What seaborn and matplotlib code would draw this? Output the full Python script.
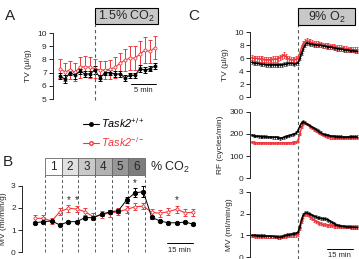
import matplotlib
matplotlib.use("Agg")
import matplotlib.pyplot as plt
from matplotlib.lines import Line2D
from matplotlib.patches import Rectangle
import seaborn as sns

sns.set_style("ticks")
plt.rcParams["font.family"] = ["Liberation Sans", "DejaVu Sans"]
plt.rcParams["mathtext.fontset"] = "custom"
plt.rcParams["mathtext.rm"] = "Liberation Sans"
plt.rcParams["mathtext.it"] = "Liberation Sans:italic"

BLACK = "black"
RED = "#f0383c"

# ---- panel A: TV during 1.5% CO2 (1 point per minute)
a_minutes = [-7, -6, -5, -4, -3, -2, -1, 0, 1, 2, 3, 4, 5, 6, 7, 8, 9, 10, 11, 12]
a_wt = [6.75, 6.5, 7.0, 6.8, 7.1, 6.9, 6.9, 7.2, 6.6, 7.0, 7.0, 6.9, 6.9, 6.6, 6.8, 6.8, 7.3, 7.2, 7.3, 7.5]
a_wt_err = [0.25, 0.3, 0.2, 0.25, 0.2, 0.2, 0.2, 0.3, 0.25, 0.2, 0.2, 0.2, 0.2, 0.2, 0.2, 0.2, 0.25, 0.2, 0.2, 0.2]
a_ko = [7.3, 7.05, 7.2, 7.05, 7.4, 7.45, 7.4, 7.3, 7.2, 7.2, 7.25, 7.4, 7.7, 7.95, 8.1, 8.1, 8.4, 8.7, 8.6, 8.9]
a_ko_err = [0.7, 0.7, 0.7, 0.7, 0.8, 0.8, 0.8, 0.7, 0.7, 0.7, 0.7, 0.8, 0.8, 0.8, 0.9, 0.9, 1.0, 1.0, 0.9, 0.9]

# ---- panel B: MV with stepwise CO2 (5 min bins)
b_minutes = [0, 5, 10, 15, 20, 25, 30, 35, 40, 45, 50, 55, 60, 65, 70, 75, 80, 85, 90, 95]
b_wt = [1.33, 1.38, 1.41, 1.23, 1.38, 1.38, 1.56, 1.56, 1.71, 1.83, 1.87, 2.36, 2.68, 2.73, 1.58, 1.41, 1.33, 1.33, 1.36, 1.27]
b_wt_err = [0.05, 0.05, 0.05, 0.05, 0.05, 0.05, 0.06, 0.06, 0.06, 0.07, 0.08, 0.12, 0.2, 0.25, 0.06, 0.05, 0.05, 0.05, 0.05, 0.05]
b_ko = [1.53, 1.53, 1.41, 1.83, 1.98, 1.95, 1.83, 1.6, 1.71, 1.76, 1.83, 1.93, 2.05, 2.08, 1.8, 1.76, 1.83, 1.94, 1.78, 1.8]
b_ko_err = [0.15, 0.15, 0.12, 0.15, 0.15, 0.15, 0.15, 0.15, 0.15, 0.15, 0.15, 0.15, 0.15, 0.15, 0.15, 0.15, 0.15, 0.15, 0.15, 0.15]
co2_levels = ["1", "2", "3", "4", "5", "6"]
co2_edges = [6, 16, 26, 36, 46, 56, 66]
co2_fills = ["#ffffff", "#e2e2e2", "#c9c9c9", "#b2b2b2", "#979797", "#7d7d7d"]
b_star_minutes = [20, 25, 60, 85]
b_star_y = [2.35, 2.35, 3.12, 2.35]

# ---- panel C: hypoxia 9% O2 (1 point per minute)
c_minutes = list(range(-26, 34))
c_tv_wt = [5.4, 5.3, 5.3, 5.2, 5.2, 5.1, 5.1, 5.1, 5.0, 5.0, 5.0, 5.0, 5.0, 5.0, 5.0, 5.0, 5.0, 5.0, 5.1, 5.1,
           5.2, 5.2, 5.2, 5.2, 5.1, 5.2,
           5.3, 6.0, 6.8, 7.5, 8.1, 8.4, 8.3, 8.2, 8.2, 8.1, 8.1, 8.0, 8.0, 8.0, 7.9, 7.9,
           7.8, 7.8, 7.7, 7.7, 7.6, 7.6, 7.5, 7.5, 7.4, 7.4, 7.3, 7.3, 7.3, 7.2, 7.2, 7.2, 7.1, 7.1]
c_tv_ko = [6.1, 6.0, 6.0, 6.0, 5.9, 5.9, 5.9, 5.8, 5.8, 5.8, 5.8, 5.8, 5.9, 5.9, 5.9, 6.0, 6.1, 6.3, 6.5, 6.3,
           6.0, 5.9, 5.8, 5.8, 5.8, 5.9,
           6.0, 6.8, 7.7, 8.3, 8.6, 8.7, 8.6, 8.5, 8.4, 8.3, 8.3, 8.2, 8.1, 8.1, 8.0, 8.0,
           7.9, 7.9, 7.8, 7.8, 7.8, 7.7, 7.7, 7.6, 7.6, 7.5, 7.5, 7.5, 7.4, 7.4, 7.4, 7.3, 7.3, 7.3]
c_rf_wt = [195, 192, 190, 190, 189, 188, 188, 188, 187, 186, 186, 186, 185, 185, 185, 183, 180, 182, 185, 188,
           190, 192, 195, 198, 200, 205,
           215, 235, 250, 255, 250, 245, 240, 235, 230, 225, 220, 215, 210, 205, 200, 197,
           195, 193, 191, 190, 189, 188, 188, 187, 187, 186, 186, 186, 186, 187, 187, 187, 187, 187]
c_rf_ko = [162, 161, 160, 160, 160, 159, 159, 159, 159, 159, 159, 159, 159, 159, 159, 159, 159, 160, 160, 160,
           160, 160, 160, 161, 161, 162,
           170, 200, 230, 245, 248, 245, 240, 233, 227, 220, 214, 208, 203, 198, 194, 191,
           188, 186, 184, 183, 182, 181, 181, 180, 180, 180, 180, 180, 180, 181, 181, 181, 181, 181]
c_mv_wt = [1.00, 1.00, 1.00, 0.99, 0.99, 0.98, 0.98, 0.98, 0.97, 0.97, 0.97, 0.96, 0.96, 0.95, 0.94, 0.92, 0.92,
           0.95, 0.98, 1.00, 1.02, 1.04, 1.05, 1.07, 1.08, 1.10,
           1.15, 1.40, 1.75, 1.95, 2.03, 2.03, 2.00, 1.96, 1.92, 1.88, 1.85, 1.82, 1.80, 1.78, 1.77, 1.76,
           1.74, 1.70, 1.65, 1.60, 1.55, 1.50, 1.47, 1.45, 1.43, 1.42, 1.41, 1.40, 1.39, 1.39, 1.38, 1.38, 1.37, 1.37]
c_mv_ko = [0.98, 0.98, 0.97, 0.97, 0.97, 0.97, 0.96, 0.96, 0.96, 0.96, 0.96, 0.96, 0.96, 0.95, 0.95, 0.94, 0.94,
           0.95, 0.96, 0.97, 0.98, 0.99, 1.00, 1.00, 1.00, 1.00,
           1.05, 1.30, 1.65, 1.88, 1.96, 1.95, 1.90, 1.83, 1.76, 1.70, 1.64, 1.60, 1.56, 1.53, 1.50, 1.48,
           1.47, 1.46, 1.45, 1.44, 1.43, 1.42, 1.41, 1.41, 1.40, 1.40, 1.40, 1.39, 1.39, 1.39, 1.39, 1.39, 1.39, 1.39]
c_tv_err = [0.3, 0.4]
c_rf_err = [6, 5]
c_mv_err = [0.07, 0.07]

W, H = 359, 259
fig = plt.figure(figsize=(W / 100, H / 100), dpi=100)


def frame(x0, y0, x1, y1):
    # pixel box -> figure fraction
    return [x0 / W, 1 - y1 / H, (x1 - x0) / W, (y1 - y0) / H]


def style(ax, lim, ticks):
    sns.despine(ax=ax, bottom=True)
    ax.set_ylim(*lim)
    ax.set_yticks(ticks)
    ax.spines["left"].set_bounds(lim[0], lim[1])
    ax.spines["left"].set_linewidth(0.7)
    ax.set_xticks([])
    ax.set_xlabel("")
    ax.tick_params(axis="y", length=3, width=0.7, labelsize=6, pad=1.5)
    ax.patch.set_alpha(0)


def series(ax, x, y, err, color, ms, mfc, ecolor, lw=0.8, elw=0.7, cap=1.2):
    ax.errorbar(x, y, yerr=err, fmt="none", ecolor=ecolor, elinewidth=elw, capsize=cap, capthick=elw, zorder=2)
    sns.lineplot(x=x, y=y, ax=ax, color=color, lw=lw, marker="o", markersize=ms,
                 markerfacecolor=mfc, markeredgecolor=color, markeredgewidth=0.6, zorder=3)


dash = (0, (3, 2.5))

# ---------------- A
axA = fig.add_axes(frame(53, 33, 160, 99))
series(axA, a_minutes, a_ko, a_ko_err, RED, 2.2, "white", RED)
series(axA, a_minutes, a_wt, a_wt_err, BLACK, 2.2, BLACK, BLACK, lw=0.7)
axA.set_xlim(-8.4, 13)
style(axA, (5, 10), [5, 6, 7, 8, 9, 10])
axA.set_ylabel("TV (µl/g)", fontsize=6, labelpad=4)
axA.plot([0, 0], [4.9, 10.7], ls=dash, color="0.35", lw=0.8, clip_on=False)
axA.add_patch(Rectangle((0, 10.7), 12.6, 1.17, facecolor="#c8c8c8", edgecolor="black", lw=0.8, clip_on=False))
axA.text(6.3, 11.28, "1.5% CO$_2$", ha="center", va="center", fontsize=9)
axA.plot([7.2, 12.1], [6.14, 6.14], color="black", lw=0.7)
axA.text(9.65, 5.62, "5 min", ha="center", va="center", fontsize=5.5)

handles = [Line2D([], [], color=BLACK, lw=0.8, marker="o", ms=2.5, mfc=BLACK),
           Line2D([], [], color=RED, lw=0.8, marker="o", ms=2.5, mfc="white", mec=RED)]
fig.legend(handles, ["Task2$^{+/+}$", "Task2$^{-/-}$"], loc="upper left",
           bbox_to_anchor=(78 / W, 1 - 111 / H), frameon=False,
           prop={"style": "italic", "size": 7.8}, handlelength=1.4, handletextpad=0.2,
           labelspacing=0.45, borderpad=0, labelcolor=[BLACK, RED])

# ---------------- B
axB = fig.add_axes(frame(22, 185.7, 195, 252.3))
for x0 in co2_edges:
    axB.plot([x0, x0], [0, 3.48], ls=dash, color="0.35", lw=0.7, clip_on=False, zorder=1)
series(axB, b_minutes, b_ko, b_ko_err, RED, 2.2, "white", RED, cap=1.5)
series(axB, b_minutes, b_wt, b_wt_err, BLACK, 3.2, BLACK, BLACK, lw=0.7)
axB.set_xlim(-7.8, 96)
style(axB, (0, 3), [0, 1, 2, 3])
axB.set_ylabel("MV (ml/min/g)", fontsize=6, labelpad=3)
for i, lab in enumerate(co2_levels):
    axB.add_patch(Rectangle((co2_edges[i], 3.48), co2_edges[i + 1] - co2_edges[i], 0.75,
                            facecolor=co2_fills[i], edgecolor="0.4", lw=0.6, clip_on=False))
    axB.text((co2_edges[i] + co2_edges[i + 1]) / 2, 3.84, lab, ha="center", va="center", fontsize=8.5)
axB.text(69, 3.84, "% CO$_2$", ha="left", va="center", fontsize=9)
for xs, ys in zip(b_star_minutes, b_star_y):
    axB.text(xs, ys, "*", ha="center", va="center", fontsize=7)
axB.plot([79, 94.5], [0.43, 0.43], color="black", lw=0.7, clip_on=False)
axB.text(86.7, 0.1, "15 min", ha="center", va="center", fontsize=5.5, clip_on=False)

# ---------------- C
c_boxes = [(32.3, 97.3, (0, 10), [0, 2, 4, 6, 8, 10], "TV (µl/g)", c_tv_wt, c_tv_ko, c_tv_err),
           (111.7, 178.3, (0, 300), [0, 100, 200, 300], "RF (cycles/min)", c_rf_wt, c_rf_ko, c_rf_err),
           (191.7, 257.3, (0, 3), [0, 1, 2, 3], "MV (ml/min/g)", c_mv_wt, c_mv_ko, c_mv_err)]
c_axes = []
for top, bottom, lim, ticks, label, wt, ko, err in c_boxes:
    ax = fig.add_axes(frame(250, top, 358, bottom))
    ax.errorbar(c_minutes, wt, yerr=err[0], fmt="none", ecolor="0.3", elinewidth=0.6, capsize=0.8, capthick=0.6)
    ax.errorbar(c_minutes, ko, yerr=err[1], fmt="none", ecolor=RED, elinewidth=0.6, capsize=0.8, capthick=0.6)
    sns.lineplot(x=c_minutes, y=ko, ax=ax, color=RED, lw=1.1, marker="o", markersize=1.3,
                 markeredgewidth=0, zorder=3)
    sns.lineplot(x=c_minutes, y=wt, ax=ax, color=BLACK, lw=1.1, marker="o", markersize=1.3,
                 markeredgewidth=0, zorder=4)
    ax.set_xlim(-27, 33.7)
    style(ax, lim, ticks)
    ax.set_ylabel(label, fontsize=6, labelpad=4)
    c_axes.append(ax)

axCt = c_axes[0]
axCt.plot([0, 0], [-24.9, 11.1], ls=dash, color="0.35", lw=0.8, clip_on=False, zorder=1)
axCt.add_patch(Rectangle((0, 11.1), 32, 2.6, facecolor="#c8c8c8", edgecolor="black", lw=0.8, clip_on=False))
axCt.text(16, 12.35, "9% O$_2$", ha="center", va="center", fontsize=9)
axCm = c_axes[2]
axCm.plot([16.1, 31], [0.37, 0.37], color="black", lw=0.7, clip_on=False)
axCm.text(23.5, 0.1, "15 min", ha="center", va="center", fontsize=5.5, clip_on=False)

for lab, x, y in [("A", 10, 16), ("B", 8, 162), ("C", 194, 16)]:
    fig.text(x / W, 1 - y / H, lab, fontsize=11, ha="center", va="center")

fig.savefig("out.png", dpi=100)
